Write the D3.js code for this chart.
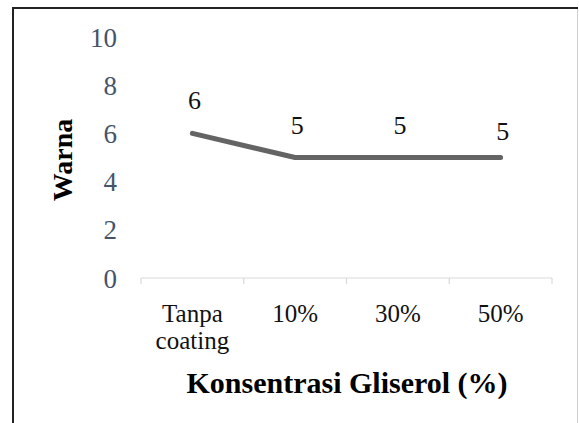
<!DOCTYPE html>
<html lang="id">
<head>
<meta charset="utf-8">
<style>
  body { margin: 0; background: #fff; }
</style>
</head>
<body>
<script src="https://d3js.org/d3.v7.min.js"></script>
<script>
  // data
  const categories = ["Tanpa coating", "10%", "30%", "50%"];
  const warnaValues = [6, 5, 5, 5];
  const yTicks = [0, 2, 4, 6, 8, 10];

  const W = 579, H = 423;
  const serif = "Liberation Serif";

  const svg = d3.select("body").append("svg")
      .attr("width", W)
      .attr("height", H)
      .attr("font-family", serif);

  // chart frame
  svg.append("line").attr("x1", 13).attr("x2", 578).attr("y1", 8).attr("y2", 8)
      .attr("stroke", "#222").attr("stroke-width", 2);
  svg.append("line").attr("x1", 13).attr("x2", 13).attr("y1", 7).attr("y2", H)
      .attr("stroke", "#222").attr("stroke-width", 2);
  svg.append("line").attr("x1", 577.5).attr("x2", 577.5).attr("y1", 9).attr("y2", H)
      .attr("stroke", "#d0d0d0").attr("stroke-width", 1);

  const x = d3.scaleBand()
      .domain(categories)
      .range([141, 552])
      .padding(0);
  const y = d3.scaleLinear()
      .domain([0, 10])
      .range([278, 37]);

  // y axis (labels only)
  const yAxis = svg.append("g")
      .attr("transform", "translate(141,0)")
      .call(d3.axisLeft(y).tickValues(yTicks).tickSize(0).tickPadding(24));
  yAxis.attr("font-family", serif).attr("font-size", 27);
  yAxis.select(".domain").remove();
  yAxis.selectAll("text")
      .attr("dy", "0.34em")
      .attr("fill", "#44546a");

  // x axis line and ticks at category boundaries
  const xg = svg.append("g");
  xg.append("line")
      .attr("x1", x.range()[0]).attr("x2", x.range()[1])
      .attr("y1", y(0)).attr("y2", y(0))
      .attr("stroke", "#d9d9d9").attr("stroke-width", 1.2);
  const bounds = categories.map(c => x(c)).concat([x(categories[categories.length - 1]) + x.bandwidth()]);
  xg.selectAll(".tk").data(bounds).enter().append("line")
      .attr("class", "tk")
      .attr("x1", d => d).attr("x2", d => d)
      .attr("y1", y(0)).attr("y2", y(0) + 6)
      .attr("stroke", "#d9d9d9").attr("stroke-width", 1.2);

  // x tick labels
  const xl = xg.selectAll(".xl").data(categories).enter().append("text")
      .attr("class", "xl")
      .attr("text-anchor", "middle")
      .attr("x", d => x(d) + x.bandwidth() / 2)
      .attr("y", y(0) + 44)
      .attr("font-size", 25)
      .attr("fill", "#111");
  xl.each(function(d) {
    const words = d.split(" ");
    d3.select(this).selectAll("tspan").data(words).enter().append("tspan")
        .attr("x", x(d) + x.bandwidth() / 2)
        .attr("dy", (w, i) => i === 0 ? 0 : 27)
        .text(w => w);
  });

  // line
  const line = d3.line()
      .x((d, i) => x(categories[i]) + x.bandwidth() / 2)
      .y(d => y(d));
  svg.append("path")
      .datum(warnaValues)
      .attr("d", line)
      .attr("fill", "none")
      .attr("stroke", "#646464")
      .attr("stroke-width", 5)
      .attr("stroke-linecap", "round")
      .attr("stroke-linejoin", "round");

  // data labels
  svg.selectAll(".dl").data(warnaValues).enter().append("text")
      .attr("class", "dl")
      .attr("text-anchor", "middle")
      .attr("x", (d, i) => x(categories[i]) + x.bandwidth() / 2 + 2)
      .attr("y", (d, i) => y(d) - (i === warnaValues.length - 1 ? 18 : 24))
      .attr("font-size", 26)
      .attr("fill", "#111")
      .text(d => d);

  // axis titles
  svg.append("text")
      .attr("text-anchor", "middle")
      .attr("x", 347)
      .attr("y", 393)
      .attr("font-size", 30)
      .attr("font-weight", "bold")
      .attr("fill", "#000")
      .text("Konsentrasi Gliserol (%)");

  svg.append("text")
      .attr("text-anchor", "middle")
      .attr("transform", "translate(72,160) rotate(-90)")
      .attr("font-size", 28)
      .attr("font-weight", "bold")
      .attr("fill", "#000")
      .text("Warna");
</script>
</body>
</html>
